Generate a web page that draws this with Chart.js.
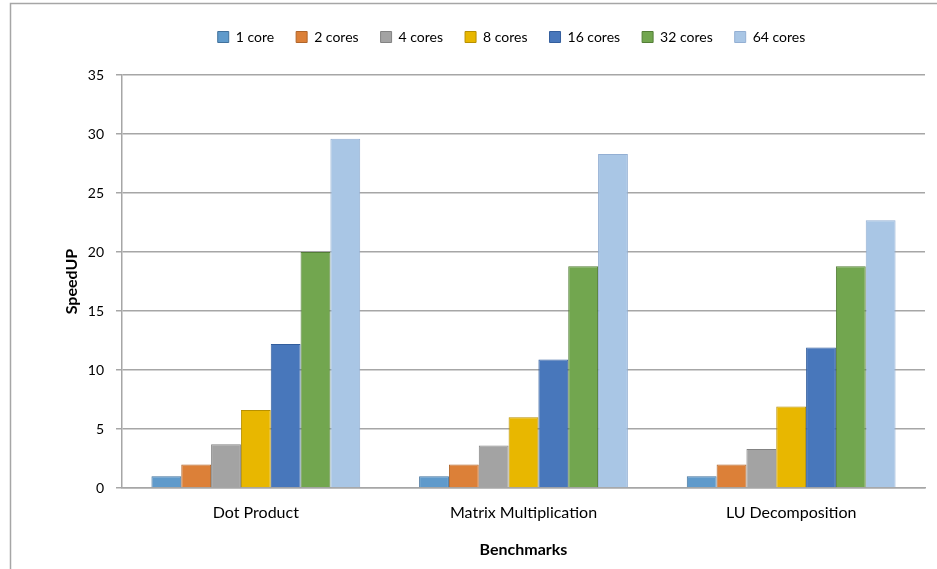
<!DOCTYPE html>
<html>
<head>
<meta charset="utf-8">
<script src="https://cdn.jsdelivr.net/npm/chart.js@4.4.1/dist/chart.umd.min.js"></script>
<style>
  html, body { margin: 0; padding: 0; background: #fff; }
  #wrap { width: 937px; height: 569px; position: relative; }
</style>
</head>
<body>
<div id="wrap"><canvas id="c" width="937" height="569"></canvas></div>
<script>
const categories = ["Dot Product", "Matrix Multiplication", "LU Decomposition"];
const seriesNames = ["1 core", "2 cores", "4 cores", "8 cores", "16 cores", "32 cores", "64 cores"];
const core1  = [1.0, 1.0, 1.0];
const cores2 = [2.0, 2.0, 2.0];
const cores4 = [3.7, 3.6, 3.3];
const cores8 = [6.6, 6.0, 6.9];
const cores16 = [12.2, 10.9, 11.9];
const cores32 = [20.0, 18.8, 18.8];
const cores64 = [29.6, 28.3, 22.7];
const yTicks = [0, 5, 10, 15, 20, 25, 30, 35];

const fills   = ["#5F9ACB", "#DC8038", "#A3A3A3", "#E8B700", "#4877BB", "#72A64F", "#A9C6E5"];
const borders = ["#41719C", "#B0652A", "#838383", "#B89000", "#335E9D", "#537E36", "#93AFD3"];
const seriesData = [core1, cores2, cores4, cores8, cores16, cores32, cores64];

const FONT = "Lato";

const framePlugin = {
  id: 'frame',
  beforeDraw(chart) {
    const ctx = chart.ctx;
    ctx.save();
    ctx.fillStyle = '#fff';
    ctx.fillRect(0, 0, chart.width, chart.height);
    ctx.strokeStyle = '#A6A6A6';
    ctx.lineWidth = 1.5;
    ctx.beginPath();
    ctx.moveTo(10.5, chart.height + 5);
    ctx.lineTo(10.5, 3.5);
    ctx.lineTo(chart.width + 5, 3.5);
    ctx.stroke();
    ctx.restore();
  }
};

const legendShift = {
  id: 'legendShift',
  afterLayout(chart) {
    const lg = chart.legend;
    if (!lg) return;
    const dx = 49, dy = -21;
    lg.left += dx; lg.right += dx;
    lg.top += dy; lg.bottom += dy;
    if (lg.adjustHitBoxes) lg.adjustHitBoxes();
  }
};

new Chart(document.getElementById('c'), {
  type: 'bar',
  data: {
    labels: categories,
    datasets: seriesNames.map((n, i) => ({
      label: n,
      data: seriesData[i],
      backgroundColor: fills[i],
      borderColor: borders[i],
      borderWidth: 1,
      categoryPercentage: 0.78,
      barPercentage: 1.0
    }))
  },
  options: {
    responsive: false,
    animation: false,
    layout: { padding: { top: 29, right: 12, left: 0, bottom: 0 } },
    plugins: {
      legend: {
        position: 'top',
        labels: {
          boxWidth: 11,
          boxHeight: 11,
          padding: 22,
          color: '#000',
          font: { family: FONT, size: 14 }
        }
      },
      tooltip: { enabled: false }
    },
    scales: {
      x: {
        grid: { display: false, drawTicks: false },
        border: { display: true, color: '#A6A6A6', width: 1.5 },
        ticks: { color: '#000', padding: 15, font: { family: FONT, size: 16 } },
        title: {
          display: true, text: 'Benchmarks', color: '#000',
          font: { family: FONT, size: 16, weight: 'bold' },
          padding: { top: 0, bottom: 10 }
        },
        afterFit(s) { s.height = 81; }
      },
      y: {
        min: 0, max: 35,
        afterBuildTicks(s) { s.ticks = yTicks.map(v => ({ value: v })); },
        grid: { color: '#A6A6A6', lineWidth: 1.5, tickLength: 6, drawTicks: true },
        border: { display: true, color: '#A6A6A6', width: 1.5 },
        ticks: { color: '#000', padding: 12, font: { family: FONT, size: 14 } },
        title: {
          display: true, text: 'SpeedUP', color: '#000',
          font: { family: FONT, size: 16, weight: 'bold' },
          padding: { top: 62, bottom: 0 }
        },
        afterFit(s) { s.width = 122; }
      }
    }
  },
  plugins: [framePlugin, legendShift]
});
</script>
</body>
</html>
